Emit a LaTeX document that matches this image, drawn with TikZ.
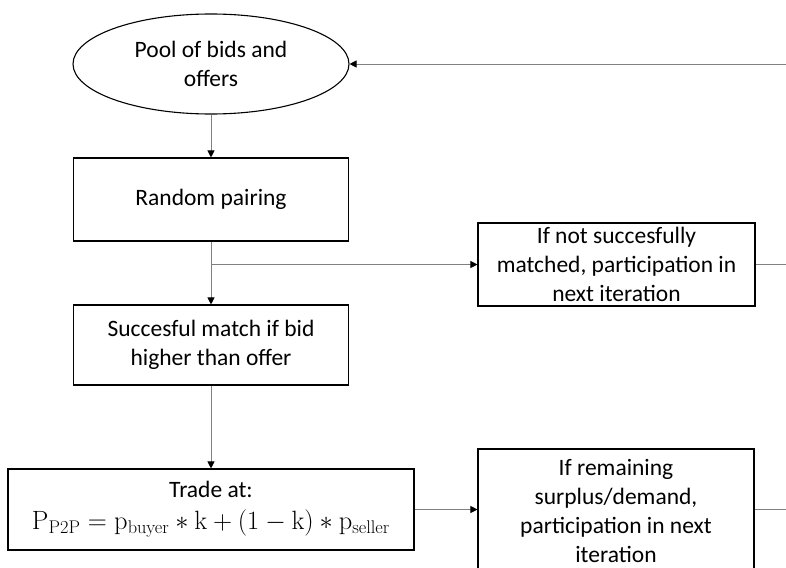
\documentclass[tikz,border=0pt]{standalone}
\usepackage[no-math]{fontspec}
\usepackage{graphicx}
\setmainfont{Carlito}
\usetikzlibrary{shapes.geometric,arrows.meta}
\definecolor{linegray}{RGB}{128,128,128}
\begin{document}
\begin{tikzpicture}[x=1pt,y=-1pt,
  txt/.style={align=center,inner sep=0pt,font=\fontsize{23.5}{29}\selectfont},
  box/.style={txt,draw=black,line width=1.1pt},
  conn/.style={draw=linegray,line width=0.9pt},
  arr/.style={conn,-{Triangle[length=7pt,width=7pt,color=black]}}]
\useasboundingbox (0,0) rectangle (786,567);
\clip (0,0) rectangle (786,567);
\node[box,ellipse,minimum width=276,minimum height=100] (pool) at (211,64) {Pool of bids and\\offers};
\node[box,minimum width=275,minimum height=83] (pair) at (211,199.5) {Random pairing};
\node[box,minimum width=277,minimum height=83] (notm) at (616.5,264.5) {If not succesfully\\matched, participation in\\next iteration};
\node[box,minimum width=275,minimum height=80] (succ) at (211,345) {Succesful match if bid\\higher than offer};
\node[box,minimum width=406,minimum height=81] (trade) at (211,509.5) {Trade at:\\[3pt] \resizebox{358pt}{!}{$\mathrm{P_{P2P}} = \mathrm{p_{buyer}} * \mathrm{k} + (1-\mathrm{k}) * \mathrm{p_{seller}}$}};
\node[box,minimum width=276,minimum height=124] (rem) at (616,511) {If remaining\\surplus/demand,\\participation in next\\iteration};
\coordinate (r1) at (786,64);
\coordinate (r2) at (786,264.5);
\coordinate (r3) at (786,509.5);
\coordinate (br) at (pair.south |- notm.west);
\draw[arr] (r1) -- (pool.east);
\draw[arr] (pool) -- (pair);
\draw[arr] (pair) -- (succ);
\draw[arr] (br) -- (notm.west);
\draw[conn] (notm.east) -- (r2);
\draw[arr] (succ) -- (trade);
\draw[arr] (trade.east) -- (trade.east -| rem.west);
\draw[conn] (rem.east |- trade.east) -- (r3);
\end{tikzpicture}
\end{document}
